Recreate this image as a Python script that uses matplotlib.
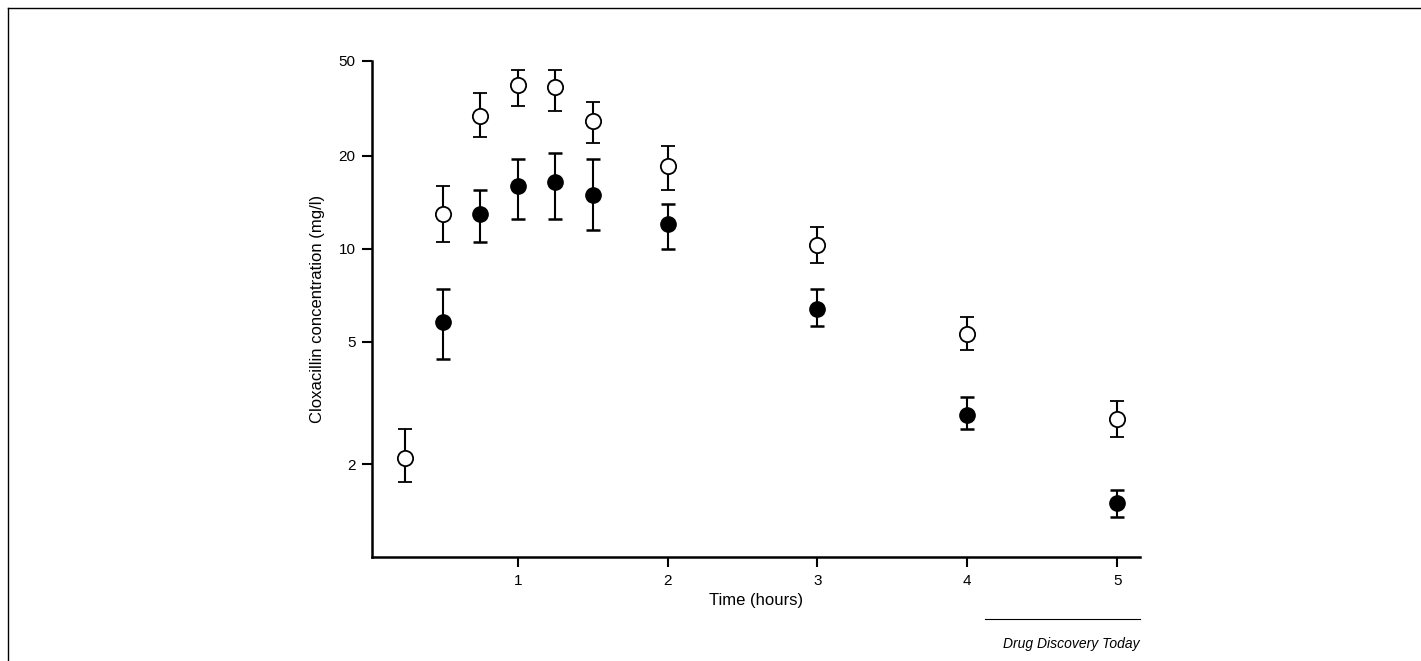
import matplotlib
matplotlib.use("Agg")
import matplotlib.pyplot as plt
from matplotlib.lines import Line2D

plt.rcParams['font.family'] = ['Liberation Sans', 'DejaVu Sans']

t_open = [0.25, 0.5, 0.75, 1.0, 1.25, 1.5, 2, 3, 4, 5]
c_open = [2.1, 13, 27, 34, 33.5, 26, 18.5, 10.3, 5.3, 2.8]
lo_open = [1.75, 10.5, 23, 29, 28, 22, 15.5, 9.0, 4.7, 2.45]
hi_open = [2.6, 16, 32, 38, 38, 30, 21.5, 11.8, 6.0, 3.2]

t_fill = [0.5, 0.75, 1.0, 1.25, 1.5, 2, 3, 4, 5]
c_fill = [5.8, 13, 16, 16.5, 15, 12, 6.4, 2.9, 1.5]
lo_fill = [4.4, 10.5, 12.5, 12.5, 11.5, 10, 5.6, 2.6, 1.35]
hi_fill = [7.4, 15.5, 19.5, 20.5, 19.5, 14, 7.4, 3.3, 1.65]

ytop = 40.7
yticks = [2, 5, 10, 20, ytop]
ytick_labels = ['2', '5', '10', '20', '50']
xticks = [1, 2, 3, 4, 5]

fig = plt.figure(figsize=(14.21, 6.61), dpi=100)
ax = fig.add_axes([0.262, 0.157, 0.54, 0.751])

def err(t, c, lo, hi):
    return [[ci - l for ci, l in zip(c, lo)], [h - ci for ci, h in zip(c, hi)]]

ax.errorbar(t_open, c_open, yerr=err(t_open, c_open, lo_open, hi_open), fmt='o',
            mfc='white', mec='black', ms=11, mew=1.3, ecolor='black', elinewidth=1.5,
            capsize=5, capthick=1.8, zorder=3)
ax.errorbar(t_fill, c_fill, yerr=err(t_fill, c_fill, lo_fill, hi_fill), fmt='o',
            mfc='black', mec='black', ms=11, ecolor='black', elinewidth=1.5,
            capsize=5, capthick=1.8, zorder=3)

ax.set_yscale('log')
ax.set_ylim(1.0, ytop)
ax.set_xlim(0.03, 5.15)
ax.set_yticks(yticks)
ax.set_yticklabels(ytick_labels)
ax.minorticks_off()
ax.set_xticks(xticks)
for s in ['top', 'right']:
    ax.spines[s].set_visible(False)
for s in ['left', 'bottom']:
    ax.spines[s].set_linewidth(1.8)
ax.tick_params(length=7, width=1.5, labelsize=11, pad=5)
ax.set_xlabel('Time (hours)', fontsize=12, labelpad=4)
ax.set_ylabel('Cloxacillin concentration (mg/l)', fontsize=12, labelpad=10)

fig.add_artist(Line2D([0.0056, 0.0056], [0.0, 0.988], color='black', lw=1, transform=fig.transFigure))
fig.add_artist(Line2D([0.0056, 1.0], [0.988, 0.988], color='black', lw=1, transform=fig.transFigure))
fig.add_artist(Line2D([0.693, 0.802], [0.063, 0.063], color='black', lw=0.8, transform=fig.transFigure))
fig.text(0.802, 0.025, 'Drug Discovery Today', ha='right', va='center', fontsize=10, style='italic')

fig.savefig('out.png', dpi=100)
